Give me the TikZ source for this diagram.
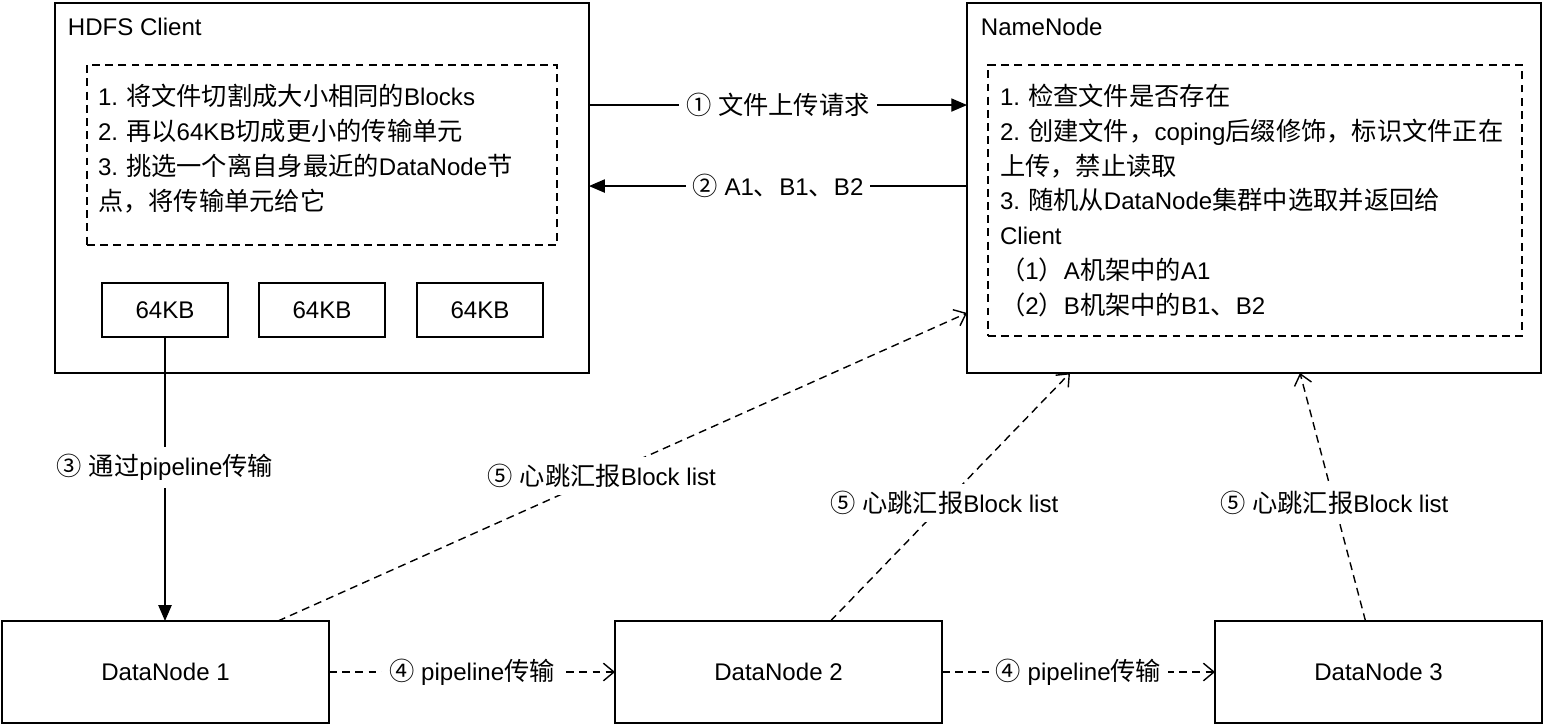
\documentclass[tikz,border=0pt]{standalone}
\usepackage{fontspec}
\setmainfont{Liberation Sans}
\newfontfamily\cjkfont[Scale=1.05]{Noto Sans CJK SC}
\usetikzlibrary{arrows.meta,calc}

% switch to the CJK font for Chinese characters
\newXeTeXintercharclass\CJKcls
\count255="3000
\loop \XeTeXcharclass\count255=\CJKcls \advance\count255 by 1 \ifnum\count255<"A000 \repeat
\count255="FF00
\loop \XeTeXcharclass\count255=\CJKcls \advance\count255 by 1 \ifnum\count255<"FFF0 \repeat
\count255="2460
\loop \XeTeXcharclass\count255=\CJKcls \advance\count255 by 1 \ifnum\count255<"2500 \repeat
\XeTeXinterchartoks 0 \CJKcls = {\cjkfont}
\XeTeXinterchartoks 4095 \CJKcls = {\cjkfont}
\XeTeXinterchartoks \CJKcls 0 = {\rmfamily}
\XeTeXinterchartoks \CJKcls 4095 = {\rmfamily}
\XeTeXinterchartokenstate=1
\frenchspacing

\tikzset{
  dashline/.style={dash pattern=on 4.5pt off 3pt},
  solidtip/.style={-{Triangle[length=9pt,width=7.5pt]}},
  opentip/.style={-{Straight Barb[length=6pt,width=10pt]}}
}

\begin{document}
\begin{tikzpicture}[x=0.02cm,y=-0.02cm,line width=1pt,font=\fontsize{13.7pt}{19.9pt}\selectfont]
\useasboundingbox (0,0) rectangle (1545,724);
\begin{scope}[every node/.style={draw=black,inner sep=0pt,outer sep=0pt}]
    \node[minimum width=10.68cm,minimum height=7.4cm] (HC) at (322,188) {};
    \node[minimum width=11.48cm,minimum height=7.4cm] (NN) at (1254,188) {};
    \node[minimum width=2.52cm,minimum height=1.08cm] (K1) at (165,310) {64KB};
    \node[minimum width=2.52cm,minimum height=1.08cm] (K2) at (322,310) {64KB};
    \node[minimum width=2.52cm,minimum height=1.08cm] (K3) at (480,310) {64KB};
    \node[minimum width=6.54cm,minimum height=2.04cm] (D1) at (165.5,672) {DataNode 1};
    \node[minimum width=6.54cm,minimum height=2.04cm] (D2) at (778.5,672) {DataNode 2};
    \node[minimum width=6.54cm,minimum height=2.04cm] (D3) at (1378.5,672) {DataNode 3};
\end{scope}
\begin{scope}[every node/.style={anchor=west,inner sep=0pt}]
    \node (HCT) at (67,27) {HDFS Client};
    \node (NNT) at (980,27) {NameNode};
\end{scope}
\begin{scope}[every node/.style={draw=black,dashline,inner sep=0pt,align=left}]
    \node[minimum width=9.4cm,minimum height=3.6cm] (HCS) at (322,155) {};
    \node[minimum width=10.68cm,minimum height=5.42cm,text width=10.2cm] (NNS) at (1255,200.5)
        {1. 检查文件是否存在\\2. 创建文件，coping后缀修饰，标识文件正在\\上传，禁止读取\\3. 随机从DataNode集群中选取并返回给\\Client\\（1）A机架中的A1\\（2）B机架中的B1、B2};
\end{scope}
\node[inner sep=0pt,align=left,text width=8.96cm] (HCX) at ($(HCS)+(0,-6)$)
    {1. 将文件切割成大小相同的Blocks\\2. 再以64KB切成更小的传输单元\\3. 挑选一个离自身最近的DataNode节\\点，将传输单元给它};
\begin{scope}[every edge/.style={draw=black,line width=0.8pt},every node/.style={fill=white,inner sep=4pt}]
    \draw ($(HC.north east)+(0,102)$) edge[solidtip] node{① 文件上传请求} ($(NN.north west)+(0,102)$);
    \draw ($(NN.north west)+(0,183)$) edge[solidtip] node{② A1、B1、B2} ($(HC.north east)+(0,183)$);
    \draw (K1.south) edge[solidtip] node[pos=0.46]{③ 通过pipeline传输} (K1.south |- D1.north);
    \draw (D1.east) edge[dashline,opentip] node{④ pipeline传输} (D2.west);
    \draw (D2.east) edge[dashline,opentip] node{④ pipeline传输} (D3.west);
    \draw ($(D1.north east)+(-51,0)$) edge[dashline,opentip] node[pos=0.47]{⑤ 心跳汇报Block list} ($(NN.south west)+(0,-60)$);
    \draw ($(D2.north)+(52,0)$) edge[dashline,opentip] node[pos=0.475]{⑤ 心跳汇报Block list} ($(NN.south)+(-184,0)$);
    \draw ($(D3.north)+(-13,0)$) edge[dashline,opentip] node[pos=0.475]{⑤ 心跳汇报Block list} ($(NN.south)+(46,0)$);
\end{scope}
\end{tikzpicture}
\end{document}
